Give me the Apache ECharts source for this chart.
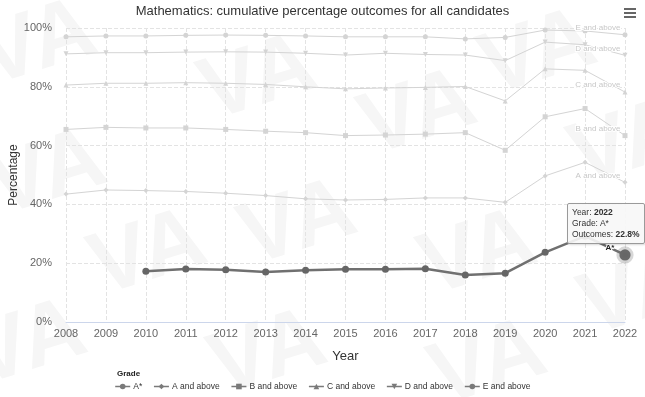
<!DOCTYPE html>
<html>
<head>
<meta charset="utf-8">
<script src="https://cdn.jsdelivr.net/npm/echarts@6/dist/echarts.min.js"></script>
<style>
  html, body { margin: 0; padding: 0; background: #fff; }
  #chart { width: 645px; height: 397px; }
</style>
</head>
<body>
<div id="chart"></div>
<script>
const years = ['2008', '2009', '2010', '2011', '2012', '2013', '2014', '2015', '2016', '2017', '2018', '2019', '2020', '2021', '2022']
const yTicks = [0, 20, 40, 60, 80, 100]

const aStar = [null, null, 17.3, 18.0, 17.8, 17.0, 17.6, 17.9, 17.9, 18.1, 16.0, 16.6, 23.7, 29.2, 22.8]
const aAbove = [43.5, 44.9, 44.7, 44.4, 43.8, 43.0, 41.9, 41.5, 41.7, 42.2, 42.2, 40.7, 49.7, 54.3, 47.5]
const bAbove = [65.5, 66.2, 66.0, 66.0, 65.5, 64.9, 64.4, 63.4, 63.6, 63.9, 64.4, 58.4, 69.8, 72.6, 63.4]
const cAbove = [80.6, 81.2, 81.2, 81.4, 81.2, 80.8, 80.0, 79.3, 79.6, 79.8, 80.1, 75.2, 86.1, 85.6, 78.2]
const dAbove = [91.2, 91.6, 91.6, 91.8, 91.9, 91.8, 91.4, 90.8, 91.4, 91.0, 90.8, 88.9, 95.2, 94.3, 90.7]
const eAbove = [97.0, 97.3, 97.3, 97.5, 97.6, 97.5, 97.3, 97.0, 97.0, 97.0, 96.3, 96.8, 99.3, 99.0, 97.7]

const grades = ['A*', 'A and above', 'B and above', 'C and above', 'D and above', 'E and above']
const seriesValues = [aStar, aAbove, bAbove, cAbove, dAbove, eAbove]
const symbols = ['circle', 'diamond', 'rect', 'triangle', 'triangle', 'circle']
const rotations = [0, 0, 0, 0, 180, 0]

const FONT = 'Arial, "Liberation Sans", Helvetica, sans-serif'
const DARK = '#666666'
const FADED = '#d4d4d4'
const LEGEND_GRAY = '#7a7a7a'

// faint "VA" watermark, drawn behind everything
const marks = [
  [-30, 20], [190, 55], [470, 30], [-20, 150], [350, 90], [560, 120],
  [80, 230], [230, 200], [410, 230], [570, 270], [-40, 320], [200, 330], [420, 340]
]

const chart = echarts.init(document.getElementById('chart'))

const series = grades.map((name, i) => {
  const highlighted = i === 0
  const last = seriesValues[i].length - 1
  return {
    name,
    type: 'line',
    symbol: symbols[i],
    symbolRotate: rotations[i],
    symbolSize: highlighted ? 7 : 5,
    z: highlighted ? 5 : 2,
    color: highlighted ? DARK : FADED,
    lineStyle: { width: highlighted ? 2.5 : 1, color: highlighted ? DARK : FADED },
    itemStyle: { color: highlighted ? DARK : FADED },
    emphasis: highlighted
      ? { scale: 1.6, itemStyle: { color: DARK, borderColor: 'rgba(110,110,110,0.28)', borderWidth: 6 } }
      : { disabled: true },
    data: seriesValues[i].map((v, idx) => idx === last ? {
      value: v,
      label: {
        show: true,
        position: 'left',
        distance: 2,
        offset: [0, -7],
        formatter: name,
        fontFamily: FONT,
        fontSize: 8,
        fontWeight: highlighted ? 'bold' : 'normal',
        color: highlighted ? '#222' : '#c8c8c8',
        textBorderColor: '#fff',
        textBorderWidth: 2
      }
    } : v)
  }
})

const option = {
  animation: false,
  backgroundColor: '#fff',
  textStyle: { fontFamily: FONT },
  title: {
    text: 'Mathematics: cumulative percentage outcomes for all candidates',
    left: 'center',
    top: 0,
    textStyle: { fontSize: 13, fontWeight: 'normal', color: '#333', fontFamily: FONT }
  },
  grid: { left: 66, right: 20, top: 28, bottom: 75, outerBoundsMode: 'none', containLabel: false },
  tooltip: {
    trigger: 'item',
    triggerOn: 'none',
    alwaysShowContent: true,
    backgroundColor: 'rgba(247,247,247,0.9)',
    borderColor: '#9a9a9a',
    borderWidth: 1,
    borderRadius: 2,
    padding: [3, 4],
    extraCssText: 'box-shadow: 1px 1px 2px rgba(0,0,0,0.15); line-height: 11px;',
    textStyle: { fontSize: 8.5, color: '#333', fontFamily: FONT },
    position: () => [567, 203],
    formatter: (p) => 'Year: <b>' + years[p.dataIndex] + '</b><br/>Grade: ' + p.seriesName +
      '<br/>Outcomes: <b>' + p.value + '%</b>'
  },
  legend: {
    data: grades.map((g) => ({
      name: g,
      itemStyle: { color: LEGEND_GRAY },
      lineStyle: { color: LEGEND_GRAY, width: 1.5 }
    })),
    left: 'center',
    top: 377,
    itemWidth: 15,
    itemHeight: 7,
    itemGap: 11,
    textStyle: { fontSize: 8.5, color: '#333', fontFamily: FONT, padding: [0, 0, 0, -2] }
  },
  xAxis: {
    type: 'category',
    data: years,
    boundaryGap: false,
    name: 'Year',
    nameLocation: 'middle',
    nameGap: 28,
    nameTextStyle: { fontSize: 13, color: '#333', fontFamily: FONT },
    axisLine: { lineStyle: { color: '#ccd6eb' } },
    axisTick: { show: false },
    axisLabel: { fontSize: 11, color: '#666', margin: 6, fontFamily: FONT },
    splitLine: { show: true, lineStyle: { color: '#e3e3e3', type: 'dashed' } }
  },
  yAxis: {
    type: 'value',
    min: yTicks[0],
    max: yTicks[yTicks.length - 1],
    interval: 20,
    name: 'Percentage',
    nameLocation: 'middle',
    nameGap: 46,
    nameMoveOverlap: false,
    nameTextStyle: { fontSize: 12, color: '#333', fontFamily: FONT },
    axisLine: { show: false },
    axisTick: { show: false },
    axisLabel: { fontSize: 11, color: '#666', margin: 14, formatter: '{value}%', fontFamily: FONT },
    splitLine: { lineStyle: { color: '#e3e3e3', type: 'dashed' } }
  },
  graphic: [
    ...marks.map(([x, y]) => ({
      type: 'text',
      x, y,
      rotation: 0.3,
      z: -10,
      silent: true,
      style: { text: 'VA', font: 'bold 88px ' + FONT, fill: '#f6f6f6' }
    })),
    {
      type: 'text',
      left: 117,
      top: 370,
      style: { text: 'Grade', font: 'bold 8px ' + FONT, fill: '#222' }
    },
    { type: 'rect', shape: { x: 624, y: 8, width: 12, height: 2 }, style: { fill: '#666' } },
    { type: 'rect', shape: { x: 624, y: 12, width: 12, height: 2 }, style: { fill: '#666' } },
    { type: 'rect', shape: { x: 624, y: 16, width: 12, height: 2 }, style: { fill: '#666' } }
  ],
  series
}

chart.setOption(option)
chart.dispatchAction({ type: 'highlight', seriesIndex: 0, dataIndex: years.length - 1 })
chart.dispatchAction({ type: 'showTip', seriesIndex: 0, dataIndex: years.length - 1 })
</script>
</body>
</html>
